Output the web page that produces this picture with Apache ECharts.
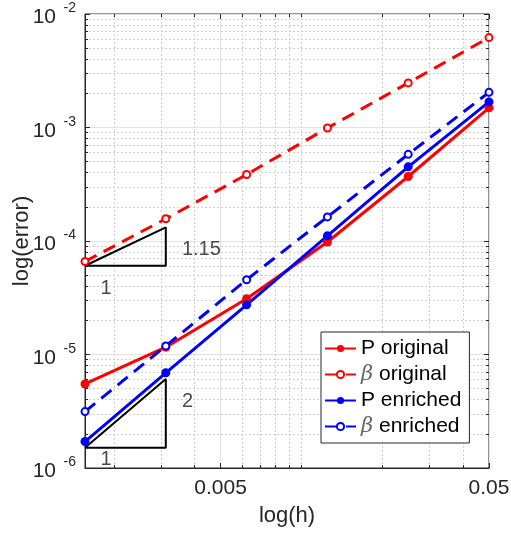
<!DOCTYPE html>
<html><head><meta charset="utf-8">
<script src="https://cdn.jsdelivr.net/npm/echarts@6/dist/echarts.min.js"></script>
<style>html,body{margin:0;padding:0;background:#fff}#c{width:511px;height:536px}</style>
</head><body><div id="c"></div>
<script>
// ---- data ----
const h = [0.0015625, 0.003125, 0.00625, 0.0125, 0.025, 0.05];
const pOriginal    = [5.5e-6, 1.16e-5, 3.1e-5, 9.8e-5, 3.7e-4, 1.49e-3];
const betaOriginal = [6.6e-5, 1.57e-4, 3.85e-4, 9.9e-4, 2.47e-3, 6.2e-3];
const pEnriched    = [1.71e-6, 6.9e-6, 2.74e-5, 1.11e-4, 4.5e-4, 1.68e-3];
const betaEnriched = [3.14e-6, 1.19e-5, 4.56e-5, 1.63e-4, 5.8e-4, 2.04e-3];
const seriesNames  = ['P original', 'β original', 'P enriched', 'β enriched'];

// slope triangles (data coordinates)
const tri1X = [0.0015625, 0.003125, 0.003125, 0.0015625];
const tri1Y = [6.05e-5, 6.05e-5, 1.32e-4, 6.05e-5];
const tri2X = [0.0015625, 0.003125, 0.003125, 0.0015625];
const tri2Y = [1.51e-6, 1.51e-6, 6.07e-6, 1.51e-6];
const annoX = [0.00424, 0.00187, 0.00377, 0.00187];
const annoY = [8.37e-5, 3.85e-5, 3.85e-6, 1.20e-6];
const annoText = ['1.15', '1', '2', '1'];

// ticks
const xMin = 0.0015625, xMax = 0.05, yMin = 1e-6, yMax = 1e-2;
const xMajor = [0.005, 0.05];
const xMinor = [0.002, 0.003, 0.004, 0.006, 0.007, 0.008, 0.009, 0.01, 0.02, 0.03, 0.04];
const yMajor = [1e-6, 1e-5, 1e-4, 1e-3, 1e-2];
const yMinor = [];
[1e-6, 1e-5, 1e-4, 1e-3].forEach(d => { for (let k = 2; k <= 9; k++) yMinor.push(+(k * d).toPrecision(3)); });

const FONT = 'Liberation Sans, Arial, Helvetica, sans-serif';
const TXT = '#262626';
const zip = (xs, ys) => xs.map((x, i) => [x, ys[i]]);

function xAx(extra) {
  return Object.assign({
    type: 'log', min: xMin, max: xMax, gridIndex: 0,
    axisLine: { show: false }, axisLabel: { show: false },
    splitLine: { show: false }, minorTick: { show: false }
  }, extra);
}
function yAx(extra) {
  return Object.assign({
    type: 'log', min: yMin, max: yMax, gridIndex: 0,
    axisLine: { show: false }, axisLabel: { show: false },
    splitLine: { show: false }, minorTick: { show: false }
  }, extra);
}
const tick = (vals, len) => ({ show: true, inside: true, length: len, customValues: vals, lineStyle: { color: TXT } });

const lineSeries = (name, data, color, dashed, empty) => ({
  name, type: 'line', xAxisIndex: 0, yAxisIndex: 0, clip: false, z: 5,
  data: zip(h, data),
  symbol: empty ? 'emptyCircle' : 'circle',
  symbolSize: empty ? 7 : 9,
  lineStyle: { color, width: 3, type: dashed ? [13, 8] : 'solid' },
  itemStyle: { color, borderColor: color, borderWidth: empty ? 2 : 0 },
  emphasis: { disabled: true }
});

const option = {
  animation: false,
  backgroundColor: '#fff',
  grid: { left: 85, top: 14, width: 404, height: 454, show: true, borderColor: TXT, borderWidth: 1,
          containLabel: false, outerBoundsMode: 'none' },
  xAxis: [
    xAx({
      position: 'bottom',
      axisLine: { show: true, lineStyle: { color: TXT } },
      axisTick: tick(xMajor, 5),
      axisLabel: { show: true, customValues: xMajor, margin: 10, color: TXT, fontSize: 21, fontFamily: FONT,
                   formatter: v => String(+(+v).toPrecision(3)) },
      splitLine: { show: true, lineStyle: { color: '#e2e2e2', width: 1 } },
      name: 'log(h)', nameLocation: 'middle', nameGap: 37, nameMoveOverlap: false,
      nameTextStyle: { color: TXT, fontSize: 22, fontFamily: FONT }
    }),
    xAx({ position: 'bottom', axisTick: tick(xMinor, 3),
          splitLine: { show: true, lineStyle: { color: '#d0d0d0', width: 1, type: [2, 2] } } }),
    xAx({ position: 'top', axisTick: tick(xMajor, 5) }),
    xAx({ position: 'top', axisTick: tick(xMinor, 3) })
  ],
  yAxis: [
    yAx({
      position: 'left',
      axisLine: { show: true, lineStyle: { color: TXT } },
      axisTick: tick(yMajor, 5),
      axisLabel: {
        show: true, customValues: yMajor, margin: 29, color: TXT, fontFamily: FONT, fontSize: 21,
        verticalAlign: 'top', lineHeight: 7, formatter: () => '10'
      },
      splitLine: { show: true, lineStyle: { color: '#e2e2e2', width: 1 } },
      name: 'log(error)', nameLocation: 'middle', nameGap: 52, nameRotate: 90, nameMoveOverlap: false,
      nameTextStyle: { color: TXT, fontSize: 22, fontFamily: FONT }
    }),
    yAx({ position: 'left', axisTick: tick(yMinor, 3),
          splitLine: { show: true, lineStyle: { color: '#d0d0d0', width: 1, type: [2, 2] } } }),
    yAx({ position: 'right', axisTick: tick(yMajor, 5) }),
    yAx({ position: 'right', axisTick: tick(yMinor, 3) }),
    // exponent (superscript) labels
    yAx({ position: 'left', axisTick: { show: false },
          axisLabel: { show: true, customValues: yMajor, margin: 9, color: TXT, fontFamily: FONT, fontSize: 14,
                       verticalAlign: 'bottom', lineHeight: 11,
                       formatter: v => String(Math.round(Math.log10(v))) } })
  ],
  legend: {
    orient: 'vertical', left: 321, top: 332,
    itemWidth: 31, itemHeight: 9, itemGap: 5,
    padding: [6, 8, 6, 3],
    borderColor: TXT, borderWidth: 1, backgroundColor: '#fff',
    data: seriesNames,
    formatter: n => n.replace('β', '{i|β}'),
    textStyle: {
      color: '#000', fontSize: 21, lineHeight: 21, fontFamily: FONT,
      rich: { i: { fontStyle: 'italic', color: '#666', fontSize: 21, fontFamily: 'DejaVu Serif, serif' } }
    }
  },
  series: [
    lineSeries(seriesNames[0], pOriginal, '#ff0000', false, false),
    lineSeries(seriesNames[1], betaOriginal, '#ff0000', true, true),
    lineSeries(seriesNames[2], pEnriched, '#0000ff', false, false),
    lineSeries(seriesNames[3], betaEnriched, '#0000ff', true, true),
    { type: 'line', xAxisIndex: 0, yAxisIndex: 0, data: zip(tri1X, tri1Y), symbol: 'none', clip: false, z: 4,
      lineStyle: { color: '#000', width: 2 }, emphasis: { disabled: true } },
    { type: 'line', xAxisIndex: 0, yAxisIndex: 0, data: zip(tri2X, tri2Y), symbol: 'none', clip: false, z: 4,
      lineStyle: { color: '#000', width: 2 }, emphasis: { disabled: true } },
    { type: 'scatter', xAxisIndex: 0, yAxisIndex: 0, symbolSize: 1, itemStyle: { color: 'rgba(0,0,0,0)' }, z: 6,
      data: annoX.map((x, i) => [x, annoY[i], annoText[i]]),
      label: { show: true, position: 'inside', formatter: p => p.data[2], color: '#1a1a1a', fontSize: 20, fontFamily: FONT },
      emphasis: { disabled: true } }
  ]
};
const chart = echarts.init(document.getElementById('c'), null, { renderer: 'canvas' });
chart.setOption(option);
</script></body></html>
